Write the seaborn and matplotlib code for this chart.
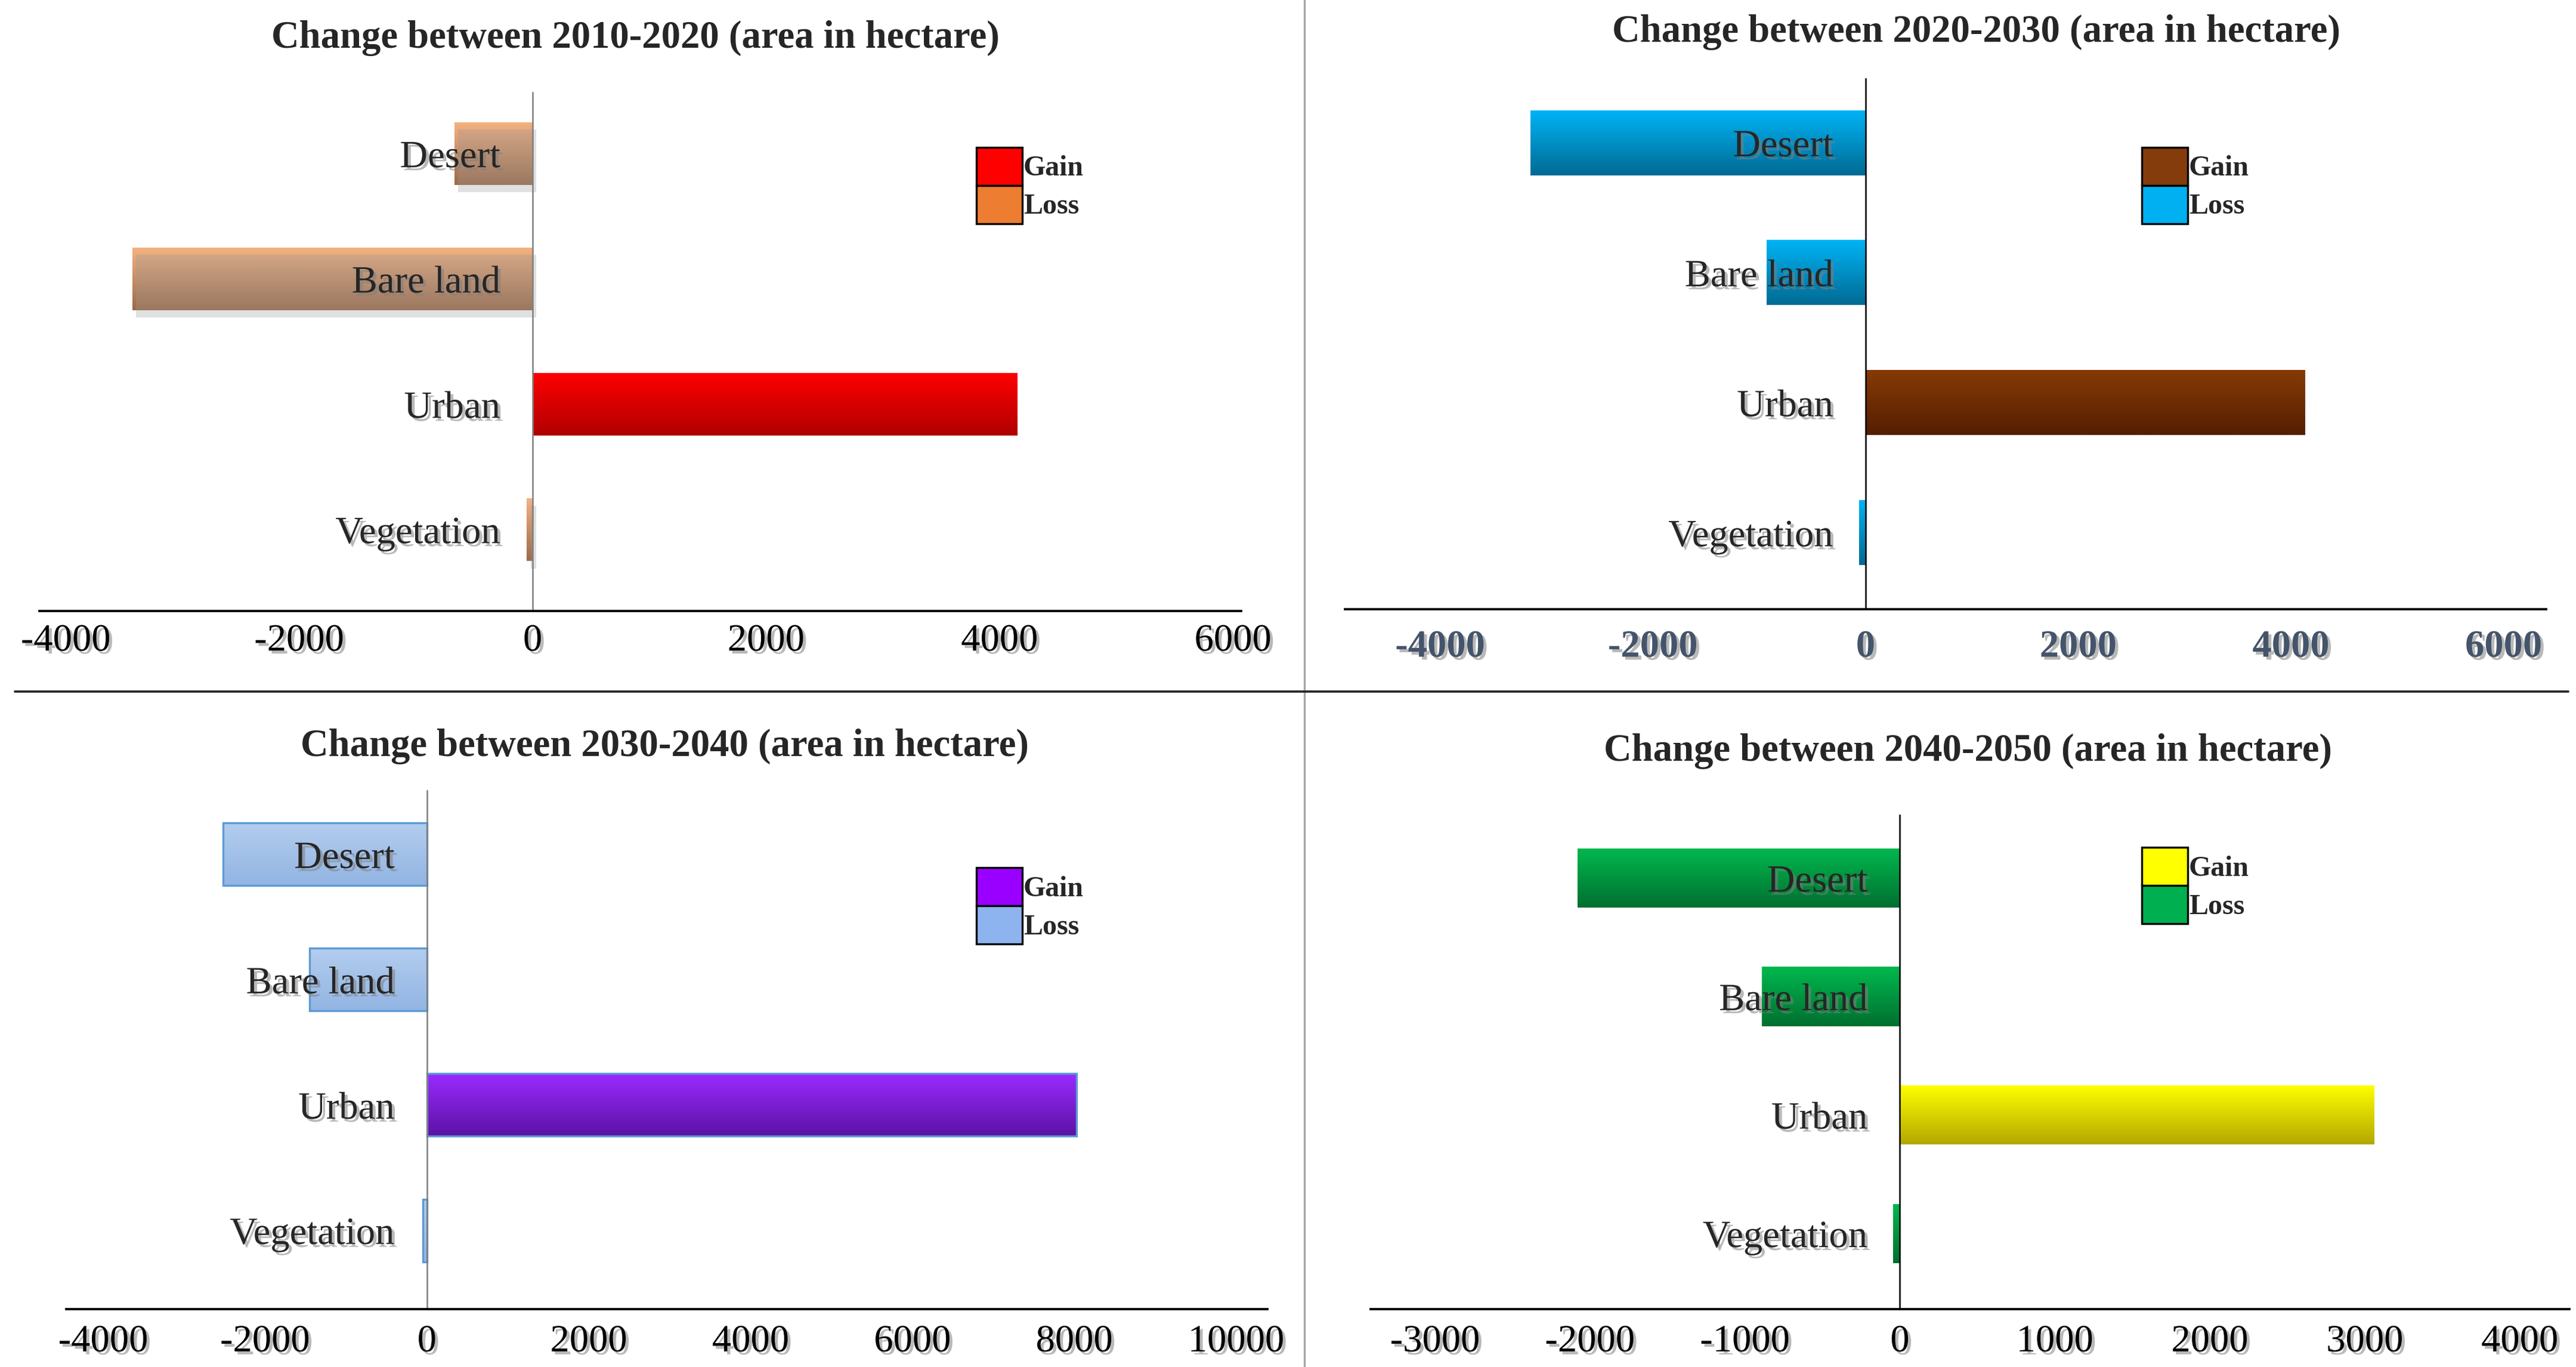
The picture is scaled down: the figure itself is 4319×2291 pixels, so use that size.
import numpy as np
import pandas as pd
import seaborn as sns
import matplotlib.pyplot as plt
import matplotlib.patheffects as pe
from matplotlib.colors import to_rgb
from matplotlib.patches import Patch

# categories shown top to bottom in every panel
categories = ['Desert', 'Bare land', 'Urban', 'Vegetation']

# change in hectare per period
change_2010_2020 = [-670, -3430, 4150, -50]
change_2020_2030 = [-3150, -930, 4130, -60]
change_2030_2040 = [-2520, -1450, 8030, -50]
change_2040_2050 = [-2080, -890, 3060, -45]

titles = ['Change between 2010-2020 (area in hectare)',
          'Change between 2020-2030 (area in hectare)',
          'Change between 2030-2040 (area in hectare)',
          'Change between 2040-2050 (area in hectare)']

ticks_2010_2020 = [-4000, -2000, 0, 2000, 4000, 6000]
ticks_2020_2030 = [-4000, -2000, 0, 2000, 4000, 6000]
ticks_2030_2040 = [-4000, -2000, 0, 2000, 4000, 6000, 8000, 10000]
ticks_2040_2050 = [-3000, -2000, -1000, 0, 1000, 2000, 3000, 4000]

sns.set_style('white')
plt.rcParams['font.family'] = ['Liberation Serif', 'DejaVu Serif']

fig = plt.figure(figsize=(14.397, 7.637), dpi=300)

# panel settings: axes box, limits, colours (legend colour, gradient top, gradient bottom)
panels = [
    dict(values=change_2010_2020, ticks=ticks_2010_2020,
         box=[0.0153, 0.5530, 0.4665, 0.3795], xlim=(-4226, 6070), ylim=(3.65, -0.49),
         gain=('#FF0000', '#FF0000', '#B00000'), loss=('#ED7D31', '#F5B282', '#9C6A48'),
         edge=None, zero='#7F7F7F', tick_color='black', tick_bold=False, tick_pad=5,
         title_xy=(0.2466, 0.9653), leg_xy=(0.3790, 0.8923), shadow=True),
    dict(values=change_2020_2030, ticks=ticks_2020_2030,
         box=[0.5220, 0.5542, 0.4665, 0.3880], xlim=(-4898, 6402), ylim=(3.59, -0.49),
         gain=('#843C0C', '#873A05', '#541E02'), loss=('#00B0F0', '#00B3F5', '#006B94'),
         edge=None, zero='black', tick_color='#44546A', tick_bold=True, tick_pad=8,
         title_xy=(0.7672, 0.9694), leg_xy=(0.8314, 0.8923), shadow=False),
    dict(values=change_2030_2040, ticks=ticks_2030_2040,
         box=[0.0256, 0.0422, 0.4664, 0.3795], xlim=(-4461, 10386), ylim=(3.63, -0.51),
         gain=('#9900FF', '#9B2BFF', '#5C12A6'), loss=('#8EB4F0', '#B3CDEE', '#92B5E3'),
         edge='#5B9BD5', zero='#7F7F7F', tick_color='black', tick_bold=False, tick_pad=6,
         title_xy=(0.2581, 0.4470), leg_xy=(0.3790, 0.3654), shadow=False),
    dict(values=change_2040_2050, ticks=ticks_2040_2050,
         box=[0.5321, 0.0422, 0.4653, 0.3614], xlim=(-3415, 4320), ylim=(3.64, -0.53),
         gain=('#FFFF00', '#FFFF00', '#B3A800'), loss=('#00B050', '#00B84E', '#007030'),
         edge=None, zero='black', tick_color='black', tick_bold=False, tick_pad=6,
         title_xy=(0.7640, 0.4437), leg_xy=(0.8314, 0.3801), shadow=False),
]

text_shadow = [pe.SimplePatchShadow(offset=(1.2, -1.2), shadow_rgbFace='#808080', alpha=0.55),
               pe.Normal()]


def gradient_fill(ax, patch, top, bottom, edge):
    x, y = patch.get_x(), patch.get_y()
    w, h = patch.get_width(), patch.get_height()
    if w == 0:
        return
    t = np.linspace(0, 1, 64)[:, None]
    c0, c1 = np.array(to_rgb(top)), np.array(to_rgb(bottom))
    img = (c0 * (1 - t) + c1 * t)[:, None, :]
    # y axis is inverted: y is the top of the bar
    im = ax.imshow(img, extent=[x, x + w, y + h, y], aspect='auto',
                   interpolation='bilinear', zorder=1.5)
    im.set_clip_path(patch)
    patch.set_zorder(1.6)
    patch.set_facecolor('none')
    if edge:
        patch.set_edgecolor(edge)
        patch.set_linewidth(0.8)


for i, p in enumerate(panels):
    df = pd.DataFrame({'category': categories, 'value': p['values']})
    df['kind'] = np.where(df['value'] > 0, 'Gain', 'Loss')

    ax = fig.add_axes(p['box'])
    sns.barplot(data=df, x='value', y='category', hue='kind', order=categories,
                hue_order=['Gain', 'Loss'], palette={'Gain': p['gain'][0], 'Loss': p['loss'][0]},
                dodge=False, width=0.5, orient='h', legend=False, ax=ax, linewidth=0)

    for bar in list(ax.patches):
        if bar.get_width() == 0:
            continue
        cols = p['gain'] if bar.get_width() > 0 else p['loss']
        if p['shadow'] and bar.get_width() < 0:
            bar.set_path_effects([pe.SimplePatchShadow(offset=(1.5, -3), shadow_rgbFace='#9a9a9a',
                                                       alpha=0.3), pe.Normal()])
        gradient_fill(ax, bar, cols[1], cols[2], p['edge'])

    ax.set_xlim(*p['xlim'])
    ax.set_ylim(*p['ylim'])
    ax.set_xticks(p['ticks'])
    ax.set_xticklabels([str(v) for v in p['ticks']])
    ax.set_xlabel('')
    ax.set_ylabel('')

    # axis text and zero line sit on top of the bars
    ax.set_axisbelow(False)
    ax.xaxis.set_zorder(5)
    ax.yaxis.set_zorder(5)
    for s in ['top', 'right']:
        ax.spines[s].set_visible(False)
    ax.spines['left'].set_position(('data', 0))
    ax.spines['left'].set_color(p['zero'])
    ax.spines['left'].set_linewidth(0.6)
    ax.spines['left'].set_zorder(4)
    ax.spines['bottom'].set_color('black')
    ax.spines['bottom'].set_linewidth(0.9)
    ax.spines['bottom'].set_zorder(4)
    ax.patch.set_alpha(0)

    ax.tick_params(axis='y', length=0, pad=13, labelsize=15.5)
    ax.tick_params(axis='x', length=0, pad=p['tick_pad'], labelsize=15.5,
                   labelcolor=p['tick_color'])
    for lab in ax.get_yticklabels():
        lab.set_path_effects(text_shadow)
    for lab in ax.get_xticklabels():
        lab.set_path_effects(text_shadow)
        if p['tick_bold']:
            lab.set_fontweight('bold')

    fig.text(p['title_xy'][0], p['title_xy'][1], titles[i], ha='center', va='baseline',
             fontsize=15.5, fontweight='bold')

    handles = [Patch(facecolor=p['gain'][0], edgecolor='black', linewidth=0.8, label='Gain'),
               Patch(facecolor=p['loss'][0], edgecolor='black', linewidth=0.8, label='Loss')]
    fig.legend(handles=handles, loc='upper left', bbox_to_anchor=p['leg_xy'],
               bbox_transform=fig.transFigure, frameon=False, borderpad=0, borderaxespad=0,
               labelspacing=0, handlelength=1.6, handleheight=1.68, handletextpad=0.05,
               prop={'size': 11.5, 'weight': 'bold'})

# separator lines between the four panels
fig.add_artist(plt.Line2D([0.5064, 0.5064], [0.0, 1.0], color='#A6A6A6', lw=0.8))
fig.add_artist(plt.Line2D([0.0058, 0.997], [0.494, 0.494], color='#262626', lw=0.9))

fig.savefig('out.png', dpi=300)
